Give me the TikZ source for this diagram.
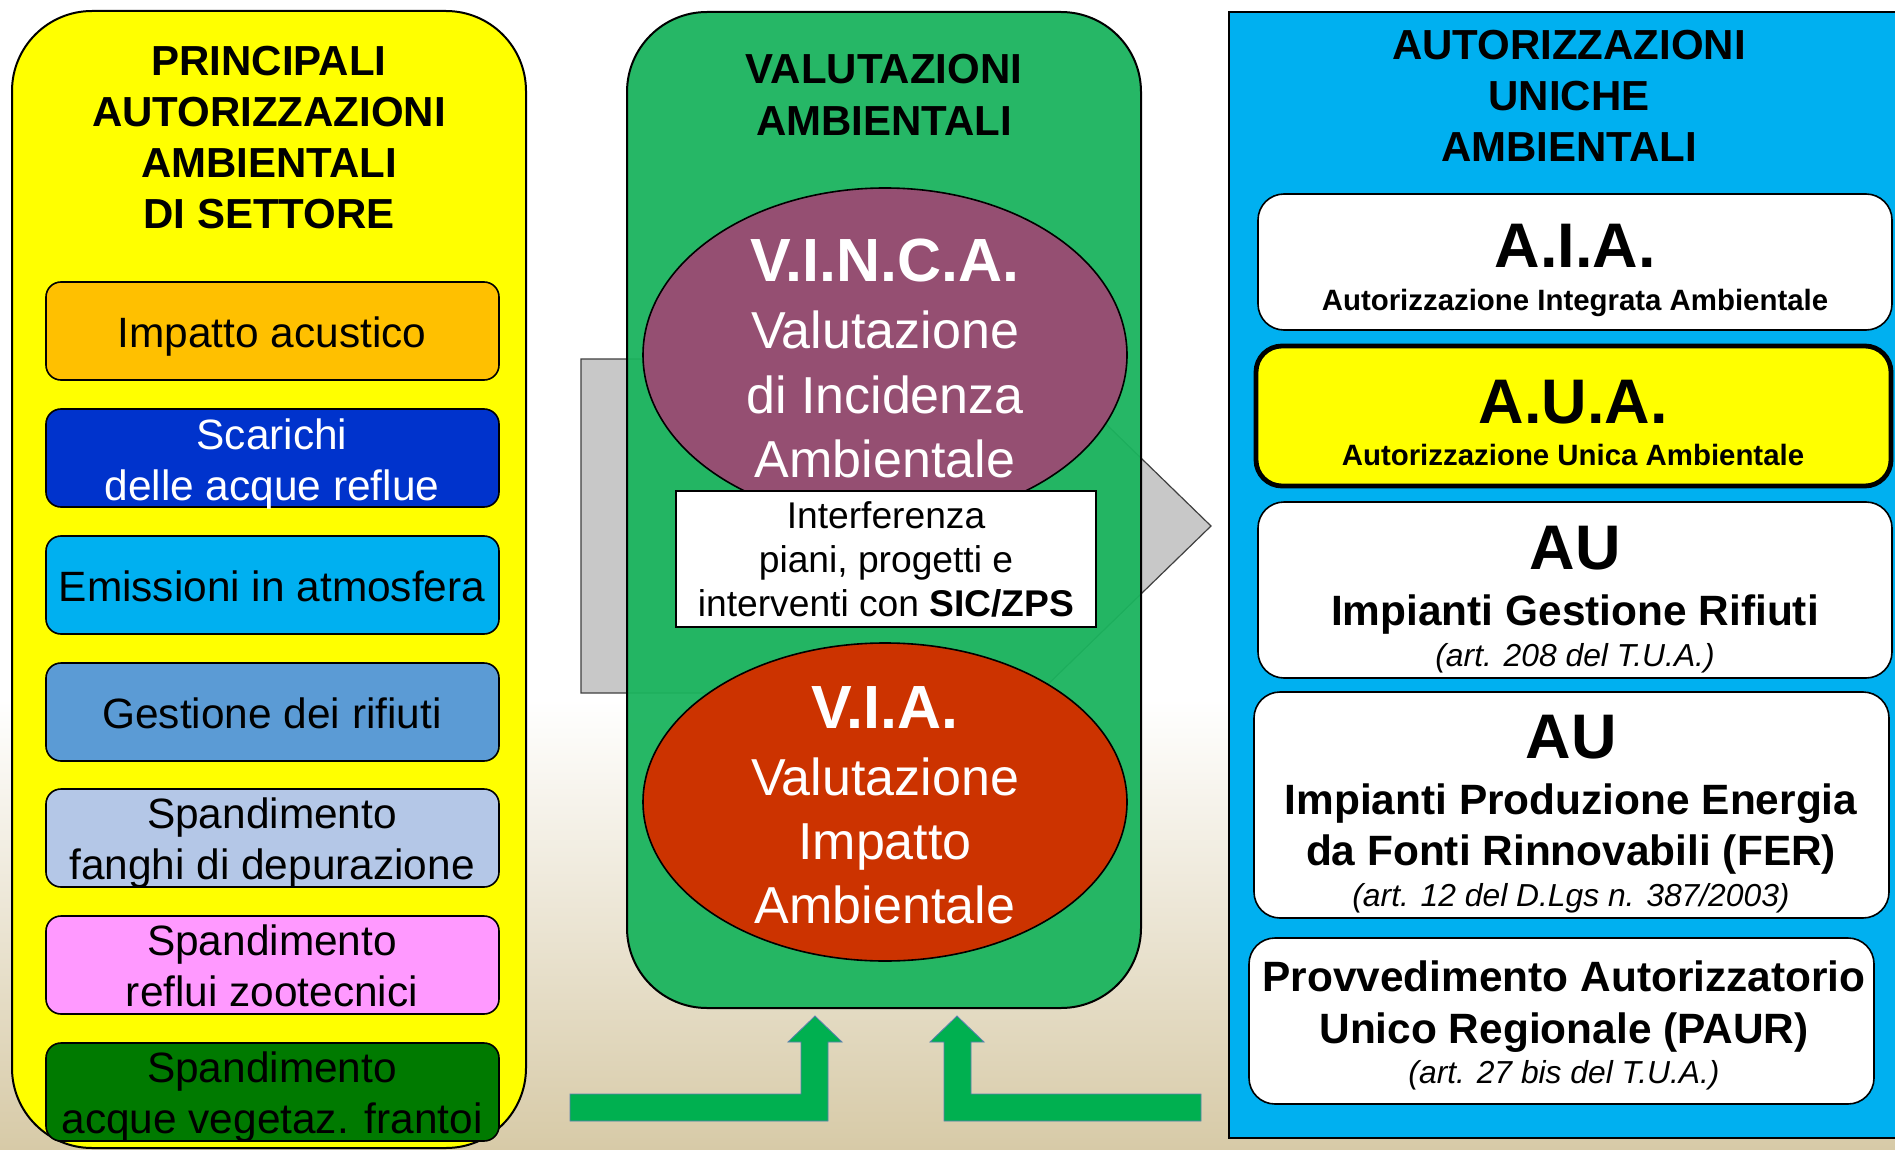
\documentclass[tikz,border=0pt]{standalone}
\usepackage{fontspec}
\setmainfont{Liberation Sans}
\definecolor{ylw}{HTML}{FFFF00}
\definecolor{grn}{HTML}{1BB45E}
\definecolor{blu}{HTML}{00B0F0}
\definecolor{vinca}{HTML}{954F72}
\definecolor{viac}{HTML}{CC3300}
\definecolor{arrg}{HTML}{00B050}
\definecolor{arredge}{HTML}{5B7FB0}
\definecolor{beige}{HTML}{D7CAA7}
\definecolor{grayarr}{HTML}{C8C8C8}
\definecolor{cOr}{HTML}{FFC000}
\definecolor{cDb}{HTML}{0033CC}
\definecolor{cLb}{HTML}{00B0F0}
\definecolor{cSb}{HTML}{5B9BD5}
\definecolor{cPb}{HTML}{B4C7E7}
\definecolor{cPk}{HTML}{FF99FF}
\definecolor{cDg}{HTML}{007A00}
\begin{document}
\begin{tikzpicture}[x=0.5pt,y=-0.5pt,
  panel/.style={draw=black, line width=1pt},
  sbox/.style={draw=black, line width=0.8pt, rounded corners=7.5pt},
  wbox/.style={draw=black, line width=0.8pt, rounded corners=13pt, fill=white},
  t/.style={anchor=base, inner sep=0pt, outer sep=0pt},
  ttl/.style={t, font=\fontsize{21}{25}\selectfont\bfseries},
  btx/.style={t, font=\fontsize{21.2}{25}\selectfont},
  big/.style={t, text=white, font=\fontsize{30.5}{36}\selectfont\bfseries},
  val/.style={t, text=white, font=\fontsize{26}{31}\selectfont},
  intf/.style={t, font=\fontsize{18.6}{22}\selectfont},
  abbr/.style={t, font=\fontsize{31.5}{36}\selectfont\bfseries},
  sub/.style={t, font=\fontsize{14.7}{17}\selectfont\bfseries},
  imp/.style={t, font=\fontsize{21.2}{25}\selectfont\bfseries},
  ita/.style={t, font=\fontsize{15.9}{18}\selectfont\itshape},
  garrow/.style={fill=arrg, draw=arredge, line width=0.4pt}
]
\useasboundingbox (0,0) rectangle (1895,1150);
% background
\fill[white] (0,0) rectangle (1895,700);
\shade[top color=white, bottom color=beige] (0,699) rectangle (1895,1150);

% gray arrow behind the green panel
\draw[fill=grayarr, draw=black!75, line width=0.6pt]
  (581,359) -- (1039,359) -- (1211,526) -- (1039,693) -- (581,693) -- cycle;

% green panel
\draw[panel, fill=grn, fill opacity=0.95, rounded corners=40pt] (627,12) rectangle (1141,1008);
\node[ttl] (gt1) at (884,84) {VALUTAZIONI};
\node[ttl] (gt2) at (884,136) {AMBIENTALI};

% VINCA ellipse
\draw[fill=vinca, line width=0.8pt] (885,355) ellipse [x radius=121pt, y radius=83.5pt];
\node[big] (vinca1) at (885,282) {V.I.N.C.A.};
\node[val] (vinca2) at (885,349) {Valutazione};
\node[val] (vinca3) at (885,413) {di Incidenza};
\node[val] (vinca4) at (885,477) {Ambientale};

% VIA ellipse
\draw[fill=viac, line width=0.8pt] (885,802) ellipse [x radius=121pt, y radius=79.5pt];
\node[big] (via1) at (885,728) {V.I.A.};
\node[val] (via2) at (885,795) {Valutazione};
\node[val] (via3) at (885,859) {Impatto};
\node[val] (via4) at (885,923) {Ambientale};

% white box
\draw[fill=white, draw=black, line width=1pt] (676,491) rectangle (1096,627);
\node[intf] (int1) at (886,528) {Interferenza};
\node[intf] (int2) at (886,572) {piani, progetti e};
\node[intf] (int3) at (886,616) {interventi con \textbf{SIC/ZPS}};

% yellow panel
\draw[panel, fill=ylw, rounded corners=40pt] (12,11) rectangle (526,1148);
\node[ttl] (lt1) at (269,76) {PRINCIPALI};
\node[ttl] (lt2) at (269,127) {AUTORIZZAZIONI};
\node[ttl] (lt3) at (269,178) {AMBIENTALI};
\node[ttl] (lt4) at (269,229) {DI SETTORE};

\draw[sbox, fill=cOr] (46,282) rectangle (499,380);
\node[btx] (b1) at (272,347) {Impatto acustico};

\draw[sbox, fill=cDb] (46,409) rectangle (499,507);
\node[btx, text=white] (b2a) at (272,449) {Scarichi};
\node[btx, text=white] (b2b) at (272,500) {delle acque reflue};

\draw[sbox, fill=cLb] (46,536) rectangle (499,634);
\node[btx] (b3) at (272,601) {Emissioni in atmosfera};

\draw[sbox, fill=cSb] (46,663) rectangle (499,761);
\node[btx] (b4) at (272,728) {Gestione dei rifiuti};

\draw[sbox, fill=cPb] (46,789) rectangle (499,887);
\node[btx] (b5a) at (272,828) {Spandimento};
\node[btx] (b5b) at (272,879) {fanghi di depurazione};

\draw[sbox, fill=cPk] (46,916) rectangle (499,1014);
\node[btx] (b6a) at (272,955) {Spandimento};
\node[btx] (b6b) at (272,1006) {reflui zootecnici};

\draw[sbox, fill=cDg] (46,1043) rectangle (499,1141);
\node[btx] (b7a) at (272,1082) {Spandimento};
\node[btx] (b7b) at (272,1133) {acque vegetaz. frantoi};

% blue panel
\draw[panel, fill=blu] (1229,12) rectangle (1905,1138);
\node[ttl] (rt1) at (1569,60) {AUTORIZZAZIONI};
\node[ttl] (rt2) at (1569,111) {UNICHE};
\node[ttl] (rt3) at (1569,162) {AMBIENTALI};

\draw[wbox] (1258,194) rectangle (1892,330);
\node[abbr] (aia1) at (1575,268) {A.I.A.};
\node[sub] (aia2) at (1575,311) {Autorizzazione Integrata Ambientale};

\draw[wbox, fill=ylw, line width=2.4pt] (1256,346) rectangle (1891,486);
\node[abbr] (aua1) at (1573,423) {A.U.A.};
\node[sub] (aua2) at (1573,465) {Autorizzazione Unica Ambientale};

\draw[wbox] (1258,502) rectangle (1892,678);
\node[abbr] (au1a) at (1575,569) {AU};
\node[imp] (au1b) at (1575,625) {Impianti Gestione Rifiuti};
\node[ita] (au1c) at (1575,666) {(art. 208 del T.U.A.)};

\draw[wbox] (1254,692) rectangle (1889,918);
\node[abbr] (au2a) at (1571,758) {AU};
\node[imp] (au2b) at (1571,814) {Impianti Produzione Energia};
\node[imp] (au2c) at (1571,865) {da Fonti Rinnovabili (FER)};
\node[ita] (au2d) at (1571,906) {(art. 12 del D.Lgs n. 387/2003)};

\draw[wbox] (1249,938) rectangle (1874,1104);
\node[imp] (pa1) at (1564,991) {Provvedimento Autorizzatorio};
\node[imp] (pa2) at (1564,1043) {Unico Regionale (PAUR)};
\node[ita] (pa3) at (1564,1083) {(art. 27 bis del T.U.A.)};

% bottom green arrows
\draw[garrow] (570,1094) -- (801,1094) -- (801,1042) -- (788,1042) -- (815,1016)
  -- (842,1042) -- (828,1042) -- (828,1121) -- (570,1121) -- cycle;
\draw[garrow] (1201,1094) -- (971,1094) -- (971,1042) -- (984,1042) -- (957,1016)
  -- (930,1042) -- (944,1042) -- (944,1121) -- (1201,1121) -- cycle;
\end{tikzpicture}
\end{document}
